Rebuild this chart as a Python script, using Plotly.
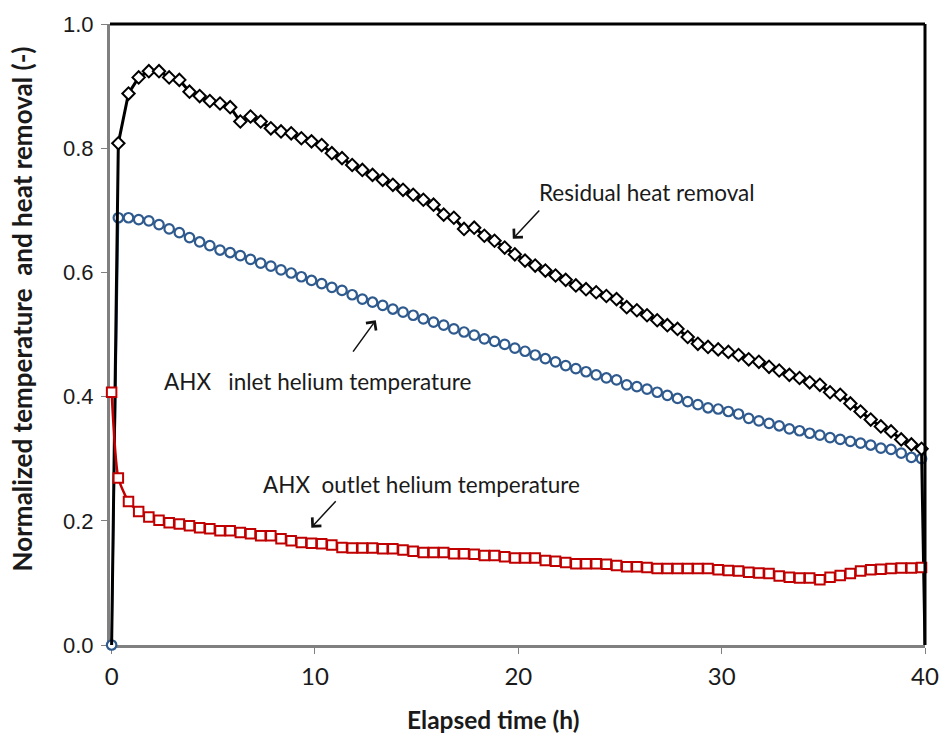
import plotly.graph_objects as go

# Elapsed time of the sampled points (h)
time_h = [
    0.33, 0.83, 1.33, 1.83, 2.33, 2.83, 3.33, 3.83, 4.33, 4.83,
    5.33, 5.83, 6.33, 6.83, 7.33, 7.83, 8.33, 8.83, 9.33, 9.83,
    10.33, 10.83, 11.33, 11.83, 12.33, 12.83, 13.33, 13.83, 14.33, 14.83,
    15.33, 15.83, 16.33, 16.83, 17.33, 17.83, 18.33, 18.83, 19.33, 19.83,
    20.33, 20.83, 21.33, 21.83, 22.33, 22.83, 23.33, 23.83, 24.33, 24.83,
    25.33, 25.83, 26.33, 26.83, 27.33, 27.83, 28.33, 28.83, 29.33, 29.83,
    30.33, 30.83, 31.33, 31.83, 32.33, 32.83, 33.33, 33.83, 34.33, 34.83,
    35.33, 35.83, 36.33, 36.83, 37.33, 37.83, 38.33, 38.83, 39.33, 39.83,
]

residual_heat = [
    0.808, 0.888, 0.914, 0.924, 0.924, 0.914, 0.910, 0.891, 0.884, 0.876,
    0.872, 0.866, 0.843, 0.851, 0.843, 0.832, 0.827, 0.824, 0.816, 0.811,
    0.805, 0.792, 0.784, 0.773, 0.765, 0.757, 0.749, 0.741, 0.733, 0.725,
    0.717, 0.709, 0.693, 0.688, 0.670, 0.672, 0.659, 0.651, 0.640, 0.629,
    0.619, 0.611, 0.603, 0.595, 0.588, 0.579, 0.573, 0.568, 0.562, 0.557,
    0.544, 0.539, 0.531, 0.523, 0.515, 0.509, 0.496, 0.485, 0.480, 0.476,
    0.472, 0.467, 0.460, 0.456, 0.448, 0.442, 0.435, 0.430, 0.423, 0.419,
    0.407, 0.403, 0.389, 0.376, 0.363, 0.352, 0.344, 0.331, 0.323, 0.316,
]

inlet_temp = [
    0.688, 0.688, 0.685, 0.683, 0.677, 0.670, 0.664, 0.656, 0.649, 0.643,
    0.636, 0.632, 0.627, 0.621, 0.615, 0.610, 0.604, 0.599, 0.593, 0.587,
    0.582, 0.576, 0.571, 0.564, 0.557, 0.552, 0.547, 0.541, 0.536, 0.531,
    0.525, 0.520, 0.515, 0.509, 0.504, 0.499, 0.493, 0.489, 0.484, 0.478,
    0.473, 0.467, 0.461, 0.456, 0.450, 0.445, 0.440, 0.435, 0.430, 0.427,
    0.419, 0.416, 0.412, 0.407, 0.402, 0.397, 0.392, 0.387, 0.382, 0.380,
    0.376, 0.372, 0.365, 0.361, 0.357, 0.353, 0.348, 0.345, 0.341, 0.338,
    0.334, 0.331, 0.328, 0.325, 0.322, 0.317, 0.315, 0.309, 0.302, 0.300,
]

outlet_temp = [
    0.269, 0.231, 0.215, 0.206, 0.201, 0.197, 0.195, 0.192, 0.189, 0.187,
    0.184, 0.184, 0.181, 0.179, 0.176, 0.176, 0.171, 0.168, 0.165, 0.164,
    0.163, 0.161, 0.157, 0.156, 0.156, 0.156, 0.155, 0.155, 0.153, 0.151,
    0.149, 0.149, 0.149, 0.147, 0.147, 0.146, 0.144, 0.144, 0.142, 0.140,
    0.140, 0.140, 0.136, 0.135, 0.133, 0.131, 0.131, 0.131, 0.130, 0.128,
    0.126, 0.126, 0.125, 0.123, 0.123, 0.123, 0.123, 0.123, 0.123, 0.121,
    0.120, 0.119, 0.117, 0.116, 0.115, 0.111, 0.109, 0.108, 0.108, 0.105,
    0.109, 0.112, 0.115, 0.119, 0.121, 0.122, 0.123, 0.124, 0.124, 0.125,
]

# start / end points of each series (time, value)
residual_start = (0.0, 0.0)
residual_end = (40.0, 0.0)
inlet_start = (0.0, 0.0)
outlet_start = (0.0, 0.407)

x_ticks = [0, 10, 20, 30, 40]
y_ticks = [0.0, 0.2, 0.4, 0.6, 0.8, 1.0]
y_tick_text = ["0.0", "0.2", "0.4", "0.6", "0.8", "1.0"]

labels = {
    "residual": "Residual heat removal",
    "inlet": "AHX\u00a0\u00a0 inlet helium temperature",
    "outlet": "AHX\u00a0 outlet helium temperature",
}

BLACK = "#000000"
BLUE = "#2f5a8e"
RED = "#c00000"
AXIS_GRAY = "#808080"
TEXT = "#1a1a1a"
FONT = "Lato, Open Sans, sans-serif"

fig = go.Figure()

# AHX inlet helium temperature (blue circles)
fig.add_trace(go.Scatter(
    x=[inlet_start[0]] + time_h, y=[inlet_start[1]] + inlet_temp,
    mode="lines+markers", name=labels["inlet"],
    line=dict(color=BLUE, width=2),
    marker=dict(symbol="circle", size=9.5, color="white",
                line=dict(color=BLUE, width=2.2)),
    cliponaxis=False,
))

# Residual heat removal (black diamonds)
rx = [residual_start[0]] + time_h + [residual_end[0]]
ry = [residual_start[1]] + residual_heat + [residual_end[1]]
rsize = [0] + [9.5] * len(time_h) + [0]
fig.add_trace(go.Scatter(
    x=rx, y=ry, mode="lines+markers", name=labels["residual"],
    line=dict(color=BLACK, width=3),
    marker=dict(symbol="diamond", size=rsize, color="#ffffff", opacity=1,
                line=dict(color=BLACK, width=2)),
    cliponaxis=False,
))

# AHX outlet helium temperature (red squares)
fig.add_trace(go.Scatter(
    x=[outlet_start[0]] + time_h, y=[outlet_start[1]] + outlet_temp,
    mode="lines+markers", name=labels["outlet"],
    line=dict(color=RED, width=2.5, shape="spline", smoothing=0.6),
    marker=dict(symbol="square", size=9.5, color="white",
                line=dict(color=RED, width=2)),
    cliponaxis=False,
))

text_font = dict(family=FONT, size=22.5, color=TEXT)
arrow_kw = dict(showarrow=True, arrowhead=4, arrowsize=1.6, arrowwidth=1.5,
                arrowcolor="#111111", axref="x", ayref="y", text="")

annotations = [
    dict(x=20.9, y=0.728, xref="x", yref="y", text=labels["residual"],
         showarrow=False, xanchor="left", yanchor="middle", font=text_font),
    dict(x=2.49, y=0.424, xref="x", yref="y", text=labels["inlet"],
         showarrow=False, xanchor="left", yanchor="middle", font=text_font),
    dict(x=7.37, y=0.259, xref="x", yref="y", text=labels["outlet"],
         showarrow=False, xanchor="left", yanchor="middle", font=text_font),
    dict(x=19.73, y=0.654, ax=21.1, ay=0.702, xref="x", yref="y", **arrow_kw),
    dict(x=12.99, y=0.523, ax=11.82, ay=0.470, xref="x", yref="y", **arrow_kw),
    dict(x=9.82, y=0.189, ax=11.09, ay=0.234, xref="x", yref="y", **arrow_kw),
    dict(x=0.47, y=-0.12, xref="paper", yref="paper", showarrow=False,
         text="<b>Elapsed time (h)</b>", xanchor="center", yanchor="middle",
         font=dict(family=FONT, size=24.5, color=TEXT)),
    dict(x=-0.108, y=0.542, xref="paper", yref="paper", showarrow=False,
         text="<b>Normalized temperature\u00a0 and heat removal (-)</b>",
         textangle=-90, xanchor="center", yanchor="middle",
         font=dict(family=FONT, size=26, color=TEXT)),
]

shapes = [
    dict(type="line", xref="paper", yref="paper", x0=0, x1=1, y0=1, y1=1,
         line=dict(color=BLACK, width=3), layer="above"),
    dict(type="line", xref="paper", yref="paper", x0=1, x1=1, y0=0, y1=1,
         line=dict(color=BLACK, width=3), layer="above"),
]

fig.update_layout(
    width=951, height=740,
    margin=dict(l=110, r=20, t=20, b=95),
    paper_bgcolor="white", plot_bgcolor="white",
    showlegend=False,
    annotations=annotations,
    shapes=shapes,
    xaxis=dict(
        range=[-0.08, 40], tickvals=x_ticks, ticks="outside", ticklen=6,
        tickcolor=AXIS_GRAY, tickwidth=1, showgrid=False, zeroline=False,
        showline=True, linecolor=AXIS_GRAY, linewidth=3, layer="below traces",
        tickfont=dict(family=FONT, size=24, color=TEXT),
        ticklabelstandoff=2,
    ),
    yaxis=dict(
        range=[0, 1.0], tickvals=y_ticks, ticktext=y_tick_text, ticks="outside",
        ticklen=6, tickcolor=AXIS_GRAY, tickwidth=1, showgrid=False, zeroline=False,
        showline=True, linecolor=AXIS_GRAY, linewidth=3, layer="below traces",
        tickfont=dict(family="Liberation Sans, Arial, sans-serif", size=22, color=TEXT),
        ticklabelstandoff=3,
    ),
)

fig.write_html("out.html")
